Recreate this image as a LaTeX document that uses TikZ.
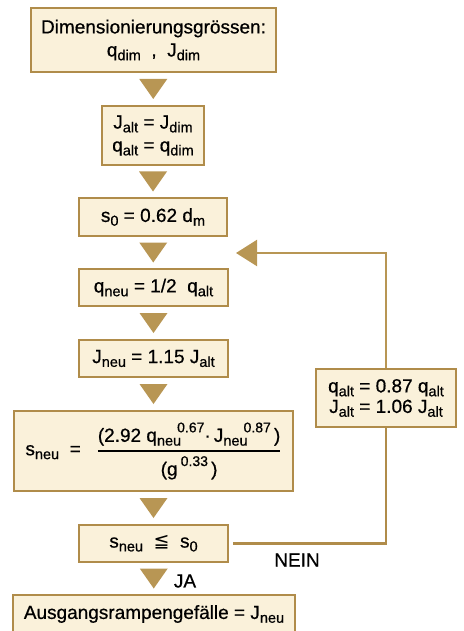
\documentclass[tikz,border=0pt]{standalone}
\usepackage{fontspec}
\setmainfont{Liberation Sans}[FakeBold=0.6]
\newfontfamily\zeichen{DejaVu Sans}
\usepackage{amsmath}
\usetikzlibrary{arrows.meta,calc}

\definecolor{rahmen}{RGB}{176,140,74}
\definecolor{papier}{RGB}{250,241,218}
\definecolor{pfeil}{RGB}{184,150,84}

\newcommand{\tief}[1]{\raisebox{-0.2em}{\fontsize{14.5}{15}\selectfont #1}}
\newcommand{\hoch}[1]{\raisebox{0.5em}{\fontsize{14}{15}\selectfont #1}}

\tikzset{
	kasten/.style={draw=rahmen, fill=papier, line width=2.8pt, inner sep=0pt, align=center, font=\fontsize{19}{23}\selectfont},
	linie/.style={draw=rahmen, line width=2.2pt},
	beschrift/.style={font=\fontsize{19}{22}\selectfont},
}
\newcommand{\runter}[2]{\fill[pfeil] ($(#1.south)!.5!(#2.north)$) +(-14,-10) -- +(14,-10) -- +(0,10) -- cycle;}

\begin{document}
\begin{tikzpicture}[x=1pt,y=-1pt]
		\useasboundingbox (0,0) rectangle (463,631);
		
		% HAUPTKETTE
		\node[kasten, minimum width=245pt, minimum height=64pt] (dim) at (153.5,40) {Dimensionierungsgrössen:\\q\tief{dim} \ , \ J\tief{dim}};
		\node[kasten, minimum width=102pt, minimum height=59pt] (alt) at (153,135.5) {J\tief{alt} = J\tief{dim}\\q\tief{alt} = q\tief{dim}};
		\node[kasten, minimum width=148pt, minimum height=38pt] (snull) at (153,217) {s\tief{0} = 0.62 d\tief{m}};
		\node[kasten, minimum width=149pt, minimum height=37pt] (qneu) at (153.5,287.5) {q\tief{neu} = 1/2 \ q\tief{alt}};
		\node[kasten, minimum width=149pt, minimum height=37pt] (jneu) at (153.5,358.5) {J\tief{neu} = 1.15 J\tief{alt}};
		\node[kasten, minimum width=279pt, minimum height=80pt] (sneu) at (153.5,451) {s\tief{neu} \ = \ \ $\genfrac{}{}{1.5pt}{0}{\text{(2.92 q\tief{neu}\kern-4pt\hoch{0.67}·\,J\tief{neu}\kern-4pt\hoch{0.87}\,)}}{\text{(g\,\hoch{0.33}\,)}}$};
		\node[kasten, minimum width=149pt, minimum height=37pt] (test) at (153.5,543.5) {s\tief{neu} \ {\zeichen ≦} \ s\tief{0}};
		\node[kasten, minimum width=282pt, minimum height=38pt] (ende) at (154,614) {Ausgangsrampengefälle = J\tief{neu}};
		
		% DREIECKE
		\runter{dim}{alt}
		\runter{alt}{snull}
		\runter{snull}{qneu}
		\runter{qneu}{jneu}
		\runter{jneu}{sneu}
		\runter{sneu}{test}
		\runter{test}{ende}
		
		% SCHLEIFE
		\node[kasten, minimum width=140pt, minimum height=58pt, font=\fontsize{19}{20.5}\selectfont] (korr) at (386,398) {q\tief{alt} = 0.87 q\tief{alt}\\J\tief{alt} = 1.06 J\tief{alt}};
		\coordinate (ziel) at (236,253);
		\draw[linie] ([xshift=4pt]test.east) -| (korr.south);
		\draw[linie, -{Triangle[length=21pt, width=26pt]}, pfeil] (korr.north) |- (ziel);
		\node[beschrift] (nein) at (297,560) {NEIN};
		\node[beschrift] (ja) at (185,581) {JA};
	\end{tikzpicture}
\end{document}
